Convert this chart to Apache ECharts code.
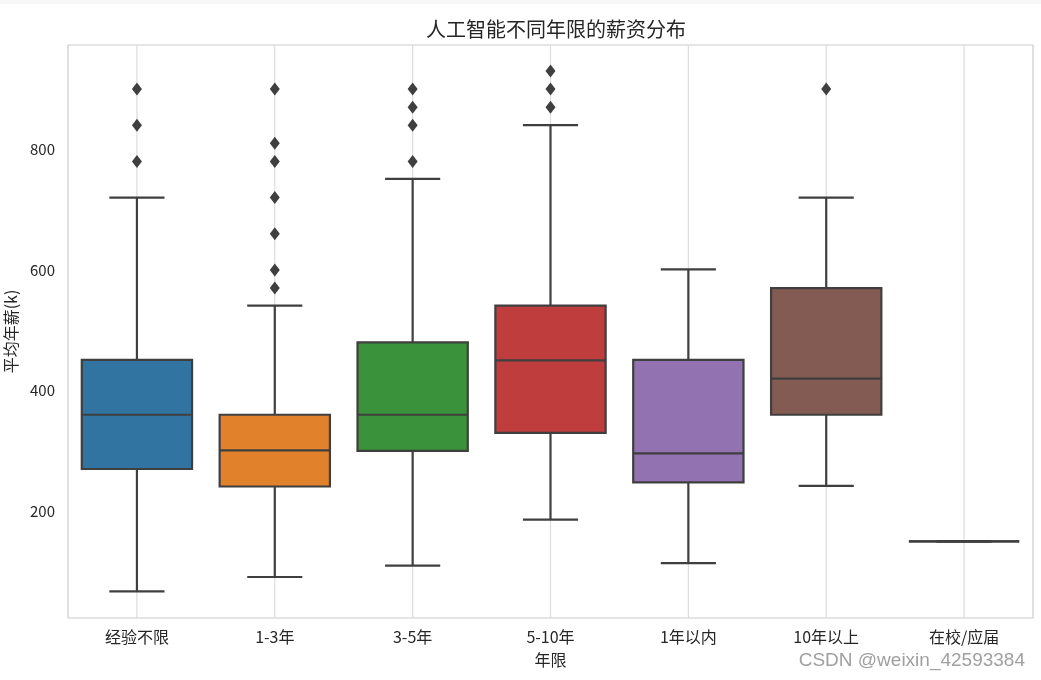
<!DOCTYPE html>
<html>
<head>
<meta charset="utf-8">
<script src="https://cdn.jsdelivr.net/npm/echarts@6/dist/echarts.min.js"></script>
<style>
html,body{margin:0;padding:0;background:#fff;}
#main{width:1041px;height:680px;}
</style>
</head>
<body>
<div id="main"></div>
<script>
var categories = ['经验不限', '1-3年', '3-5年', '5-10年', '1年以内', '10年以上', '在校/应届'];
var lowerWhisker = [67, 91, 110, 186, 114, 242, 150];
var q1Values = [270, 241, 300, 330, 248, 360, 150];
var medianValues = [360, 301, 360, 450, 296, 420, 150];
var q3Values = [451, 360, 480, 541, 451, 570, 150];
var upperWhisker = [720, 541, 751, 840, 601, 720, 150];
var outlierCategory = [0, 0, 0, 1, 1, 1, 1, 1, 1, 1, 2, 2, 2, 2, 3, 3, 3, 5];
var outlierValues = [900, 840, 780, 900, 810, 780, 720, 660, 600, 570, 900, 870, 840, 780, 930, 900, 870, 900];
var boxColors = ['#3274a1', '#e1812c', '#3a923a', '#c03d3e', '#9372b2', '#845b53', '#d684bd'];
var yTicks = [200, 400, 600, 800];

var lineColor = '#3f3f3f';
var textColor = '#262626';
var fontCJK = "'Noto Sans CJK SC', 'Noto Sans', sans-serif";

var boxData = categories.map(function (c, i) {
  return [i, lowerWhisker[i], q1Values[i], medianValues[i], q3Values[i], upperWhisker[i]];
});
var outlierData = outlierValues.map(function (v, i) { return [outlierCategory[i], v]; });

var chart = echarts.init(document.getElementById('main'), null, { renderer: 'canvas' });

function renderGrid(params, api) {
  var i = api.value(0);
  var cs = params.coordSys;
  var x = api.coord([i, 0])[0];
  return {
    type: 'line',
    shape: { x1: x, y1: cs.y, x2: x, y2: cs.y + cs.height },
    style: { stroke: '#dcdcdc', lineWidth: 1.2 },
    silent: true
  };
}

function renderBox(params, api) {
  var i = api.value(0);
  var band = api.size([1, 0])[0];
  var bw = band * 0.8;
  var cw = bw / 2;
  var cx = api.coord([i, api.value(3)])[0];
  var yLo = api.coord([i, api.value(1)])[1];
  var yQ1 = api.coord([i, api.value(2)])[1];
  var yMed = api.coord([i, api.value(3)])[1];
  var yQ3 = api.coord([i, api.value(4)])[1];
  var yHi = api.coord([i, api.value(5)])[1];
  var ls = { stroke: lineColor, lineWidth: 2.2 };
  return {
    type: 'group',
    children: [
      { type: 'line', shape: { x1: cx, y1: yQ1, x2: cx, y2: yLo }, style: ls },
      { type: 'line', shape: { x1: cx, y1: yQ3, x2: cx, y2: yHi }, style: ls },
      { type: 'line', shape: { x1: cx - cw / 2, y1: yLo, x2: cx + cw / 2, y2: yLo }, style: ls },
      { type: 'line', shape: { x1: cx - cw / 2, y1: yHi, x2: cx + cw / 2, y2: yHi }, style: ls },
      { type: 'rect', shape: { x: cx - bw / 2, y: yQ3, width: bw, height: yQ1 - yQ3 },
        style: { fill: boxColors[i], stroke: lineColor, lineWidth: 2.2 } },
      { type: 'line', shape: { x1: cx - bw / 2, y1: yMed, x2: cx + bw / 2, y2: yMed }, style: ls }
    ]
  };
}

var option = {
  animation: false,
  backgroundColor: '#ffffff',
  title: {
    text: '人工智能不同年限的薪资分布',
    left: 551,
    textAlign: 'center',
    top: 14,
    textStyle: { fontFamily: fontCJK, fontSize: 20, fontWeight: 'normal', color: textColor }
  },
  grid: {
    left: 68, right: 8, top: 45, bottom: 62,
    outerBoundsMode: 'none',
    containLabel: false,
    show: true, borderColor: '#cccccc', borderWidth: 1.2, backgroundColor: '#ffffff'
  },
  xAxis: {
    type: 'category',
    data: categories,
    name: '年限',
    nameLocation: 'middle',
    nameGap: 34,
    nameTextStyle: { fontFamily: fontCJK, fontSize: 16, color: textColor },
    axisLine: { show: false },
    axisTick: { show: false },
    splitLine: { show: false },
    axisLabel: { fontFamily: fontCJK, fontSize: 16, color: textColor, margin: 11 }
  },
  yAxis: {
    type: 'value',
    min: 23,
    max: 973,
    name: '平均年薪(k)',
    nameLocation: 'middle',
    nameGap: 45,
    nameTextStyle: { fontFamily: fontCJK, fontSize: 16, color: textColor },
    axisLine: { show: false },
    axisTick: { show: false },
    splitLine: { show: false },
    axisLabel: {
      customValues: yTicks,
      fontFamily: fontCJK, fontSize: 15, color: textColor, margin: 13
    }
  },
  series: [
    {
      type: 'custom',
      name: 'grid',
      renderItem: renderGrid,
      data: boxData,
      z: 1,
      silent: true
    },
    {
      type: 'custom',
      name: 'box',
      renderItem: renderBox,
      data: boxData,
      encode: { x: 0, y: [1, 2, 3, 4, 5] },
      z: 2
    },
    {
      type: 'scatter',
      name: 'outliers',
      data: outlierData,
      symbol: 'diamond',
      symbolSize: [10, 13],
      itemStyle: { color: lineColor, opacity: 1 },
      z: 3
    }
  ],
  graphic: [
    { type: 'rect', left: 0, top: 0, shape: { width: 1041, height: 4 }, style: { fill: '#f7f7f7' }, silent: true },
    {
      type: 'text', right: 16, top: 651,
      style: { text: 'CSDN @weixin_42593384', fontFamily: "'Liberation Sans', Arial, sans-serif", fontSize: 19, fill: '#a0a0a0' },
      silent: true
    }
  ]
};
chart.setOption(option);
</script>
</body>
</html>
